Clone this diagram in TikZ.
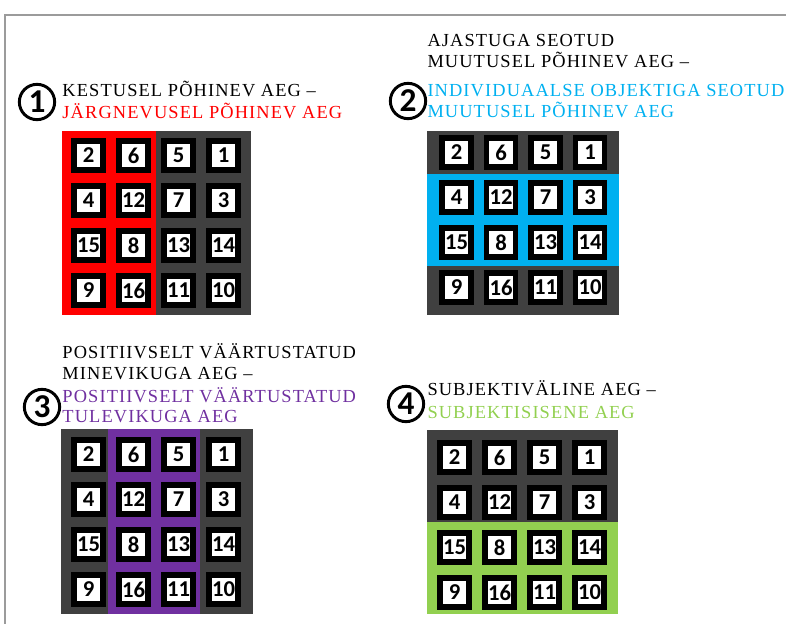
\documentclass[tikz,border=0pt]{standalone}
\usepackage{fontspec}
\setmainfont{Liberation Serif}
\newfontfamily\capfont{Liberation Serif}[LetterSpace=6]
\newfontfamily\calfont{Carlito}

\definecolor{gridgray}{RGB}{64,64,64}
\definecolor{hlred}{RGB}{255,0,0}
\definecolor{hlblue}{RGB}{0,176,240}
\definecolor{hlpurple}{RGB}{112,48,160}
\definecolor{hlgreen}{RGB}{146,208,80}

\tikzset{every picture/.style={line width=0.75pt}}
\tikzset{
  numbox/.style={draw=black, fill=white, line width=4.1pt, minimum size=22pt, inner sep=0pt,
    font=\calfont\bfseries\fontsize{17}{17}\selectfont},
  numcircle/.style={draw=black, circle, line width=2.2pt, minimum size=26.5pt, inner sep=0pt,
    font=\calfont\bfseries\fontsize{25}{25}\selectfont},
  titletext/.style={anchor=base west, inner sep=0pt, font=\capfont\fontsize{13.8}{16}\selectfont}
}

\begin{document}
\begin{tikzpicture}[x=0.75pt,y=0.75pt,yscale=-1,xscale=1]
\useasboundingbox (0,0) rectangle (786,624);

%Straight Lines: frame
\draw [color={rgb, 255:red, 155; green, 155; blue, 155 }, line width=1.1pt] (5,624) -- (5,15) -- (786,15) ;

% ---- panel 1 ----
\node [numcircle] (c1) at (37,102) {1};
\node [titletext, text=black] (t1a) at (62,97) {KESTUSEL PÕHINEV AEG –};
\node [titletext, text=hlred] (t1b) at (62,119) {JÄRGNEVUSEL PÕHINEV AEG};
%Shape: Rectangle
\fill [gridgray] (62,131) rectangle (251,315) ;
\fill [hlred] (62,131) rectangle (156,315) ;
\foreach \c/\r/\n in {0/0/2,1/0/6,2/0/5,3/0/1,0/1/4,1/1/12,2/1/7,3/1/3,0/2/15,1/2/8,2/2/13,3/2/14,0/3/9,1/3/16,2/3/11,3/3/10}
  \node [numbox] (p1n\n) at (88.5+45*\c,155.5+45*\r) {\n};

% ---- panel 2 ----
\node [numcircle] (c2) at (408,101) {2};
\node [titletext, text=black] (t2a) at (427,47) {AJASTUGA SEOTUD};
\node [titletext, text=black] (t2b) at (427,68) {MUUTUSEL PÕHINEV AEG –};
\node [titletext, text=hlblue] (t2c) at (427,97) {INDIVIDUAALSE OBJEKTIGA SEOTUD};
\node [titletext, text=hlblue] (t2d) at (427,118) {MUUTUSEL PÕHINEV AEG};
%Shape: Rectangle
\fill [gridgray] (427,131) rectangle (619,315) ;
\fill [hlblue] (427,174) rectangle (619,266) ;
\foreach \c/\r/\n in {0/0/2,1/0/6,2/0/5,3/0/1,0/1/4,1/1/12,2/1/7,3/1/3,0/2/15,1/2/8,2/2/13,3/2/14,0/3/9,1/3/16,2/3/11,3/3/10}
  \node [numbox] (p2n\n) at (456.5+44.5*\c,152.5+45*\r) {\n};

% ---- panel 3 ----
\node [numcircle] (c3) at (42,407) {3};
\node [titletext, text=black] (t3a) at (62,358) {POSITIIVSELT VÄÄRTUSTATUD};
\node [titletext, text=black] (t3b) at (62,379) {MINEVIKUGA AEG –};
\node [titletext, text=hlpurple] (t3c) at (62,402) {POSITIIVSELT VÄÄRTUSTATUD};
\node [titletext, text=hlpurple] (t3d) at (62,422) {TULEVIKUGA AEG};
%Shape: Rectangle
\fill [gridgray] (61,429) rectangle (253,614) ;
\fill [hlpurple] (108,429) rectangle (200,614) ;
\foreach \c/\r/\n in {0/0/2,1/0/6,2/0/5,3/0/1,0/1/4,1/1/12,2/1/7,3/1/3,0/2/15,1/2/8,2/2/13,3/2/14,0/3/9,1/3/16,2/3/11,3/3/10}
  \node [numbox] (p3n\n) at (88.5+45*\c,454.5+45*\r) {\n};

% ---- panel 4 ----
\node [numcircle] (c4) at (406,404) {4};
\node [titletext, text=black] (t4a) at (427,395) {SUBJEKTIVÄLINE AEG –};
\node [titletext, text=hlgreen] (t4b) at (427,418) {SUBJEKTISISENE AEG};
%Shape: Rectangle
\fill [gridgray] (427,430) rectangle (618,614) ;
\fill [hlgreen] (427,522) rectangle (618,614) ;
\foreach \c/\r/\n in {0/0/2,1/0/6,2/0/5,3/0/1,0/1/4,1/1/12,2/1/7,3/1/3,0/2/15,1/2/8,2/2/13,3/2/14,0/3/9,1/3/16,2/3/11,3/3/10}
  \node [numbox] (p4n\n) at (454.5+45*\c,457.5+45*\r) {\n};

\end{tikzpicture}
\end{document}
